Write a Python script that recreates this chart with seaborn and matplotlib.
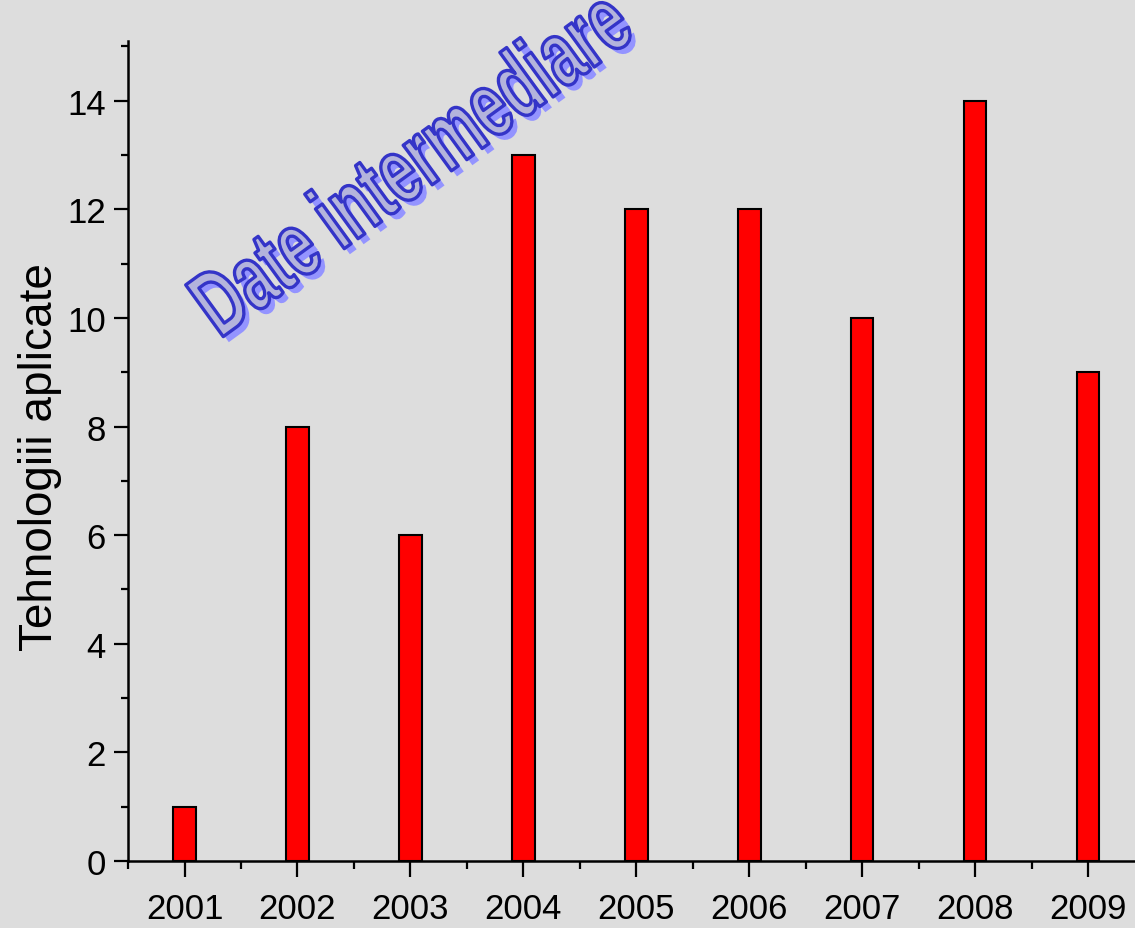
import pandas as pd
import seaborn as sns
import matplotlib.pyplot as plt
import matplotlib.patheffects as pe
from matplotlib.transforms import Affine2D
from matplotlib.ticker import MultipleLocator, FixedLocator

# -----------------------------
# Data
# -----------------------------
years = ["2001", "2002", "2003", "2004", "2005", "2006", "2007", "2008", "2009"]
technologies = [1, 8, 6, 13, 12, 12, 10, 14, 9]

df = pd.DataFrame({"An": years, "Tehnologii": technologies})


# make glyphs taller (no condensed font installed)
class Stretch(pe.AbstractPathEffect):
    def __init__(self, sy, inner, fill=True):
        super().__init__()
        self.sy = sy
        self.inner = inner
        self.fill = fill

    def draw_path(self, renderer, gc, tpath, affine, rgbFace=None):
        aff = Affine2D().scale(1.0, self.sy) + affine
        face = rgbFace if self.fill else None
        self.inner.draw_path(renderer, gc, tpath, aff, face)


# -----------------------------
# Style
# -----------------------------
sns.set_style("ticks")
plt.rcParams["font.family"] = ["Liberation Sans", "DejaVu Sans"]

bg = "#dddddd"

fig = plt.figure(figsize=(11.35, 9.29), dpi=100, facecolor=bg)
ax = fig.add_axes([0.1128, 0.0721, 0.8956, 0.8827])
ax.set_facecolor(bg)

sns.barplot(
    data=df,
    x="An",
    y="Tehnologii",
    color="red",
    saturation=1,
    width=0.2,
    edgecolor="black",
    linewidth=1.5,
    ax=ax
)

ax.set_xlim(-0.5, 8.5)
ax.set_ylim(0, 15.1)

ax.yaxis.set_major_locator(MultipleLocator(2))
ax.yaxis.set_minor_locator(FixedLocator([1, 3, 5, 7, 9, 11, 13, 15]))
ax.xaxis.set_minor_locator(FixedLocator([i - 0.5 for i in range(10)]))

for side in ["top", "right"]:
    ax.spines[side].set_visible(False)
for side in ["left", "bottom"]:
    ax.spines[side].set_linewidth(1.8)
    ax.spines[side].set_color("black")

ax.tick_params(axis="both", which="major", width=1.6,
               colors="black", labelsize=25)
ax.tick_params(axis="both", which="minor", width=1.6, colors="black")
ax.tick_params(axis="y", which="major", length=10, pad=6)
ax.tick_params(axis="y", which="minor", length=5)
ax.tick_params(axis="x", which="major", length=11.5, pad=11)
ax.tick_params(axis="x", which="minor", length=6)

ax.set_xlabel("")
ax.set_ylabel("Tehnologiii aplicate", fontsize=33, color="black")
ax.yaxis.set_label_coords(-0.065, 0.494)

# -----------------------------
# WordArt-like title
# -----------------------------
sy = 1.52
fig.text(
    0.1938, 0.634,
    "Date intermediare",
    fontweight="bold",
    fontsize=44,
    color="#b4b4dc",
    rotation=36,
    rotation_mode="anchor",
    ha="left",
    va="baseline",
    path_effects=[
        Stretch(sy, pe.SimplePatchShadow(offset=(4, -4), shadow_rgbFace="#9494ff", alpha=1)),
        Stretch(sy, pe.Normal()),
        Stretch(sy, pe.Stroke(linewidth=2.4, foreground="#3434c8"), fill=False),
    ],
)

plt.savefig("out.png", dpi=100, facecolor=bg)
